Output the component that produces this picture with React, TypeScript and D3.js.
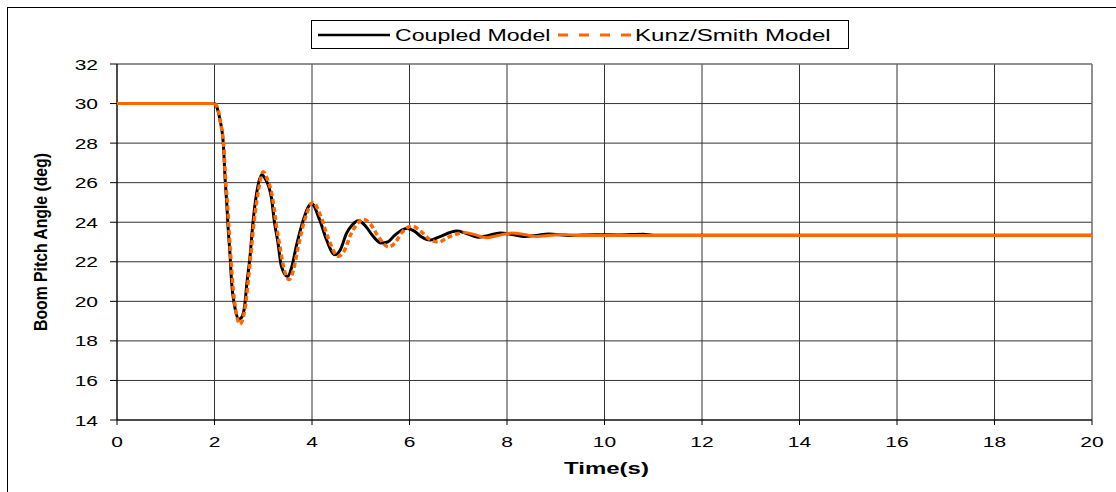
import React from "react";
import * as d3 from "d3";

// Coupled Model (black solid)
const coupledTime = [
  0, 2.0, 2.05, 2.11, 2.18, 2.22, 2.25, 2.28, 2.32, 2.35, 2.41, 2.5, 2.56, 2.62, 2.66, 2.73, 2.79, 2.86,
  2.97, 3.04, 3.17, 3.23, 3.3, 3.37, 3.5, 3.58, 3.68, 3.82, 3.99, 4.16, 4.3, 4.47, 4.58, 4.71, 4.82,
  4.95, 5.1, 5.25, 5.42, 5.55, 5.7, 5.94, 6.1, 6.25, 6.42, 6.6, 6.97, 7.15, 7.41, 7.6, 7.86, 8.1, 8.33,
  8.6, 8.85, 9.3, 9.8, 10.3, 10.8, 11.0, 20,
];
const coupledAngle = [
  30, 30, 29.8, 29.2, 28.0, 26.1, 25.0, 23.7, 22.3, 21.0, 19.8, 19.1, 19.2, 19.8, 20.8, 22.3, 24.0, 25.4,
  26.4, 26.2, 25.2, 24.0, 23.0, 21.8, 21.25, 21.7, 22.8, 24.1, 24.95, 24.1, 23.1, 22.35, 22.6, 23.45, 23.85,
  24.08, 23.8, 23.3, 22.95, 23.0, 23.35, 23.68, 23.55, 23.25, 23.1, 23.25, 23.56, 23.45, 23.24, 23.32, 23.45,
  23.38, 23.28, 23.33, 23.4, 23.33, 23.37, 23.36, 23.39, 23.34, 23.34,
];

// Kunz/Smith Model (orange dashed)
const kunzTime = [
  0, 2.0, 2.06, 2.12, 2.19, 2.23, 2.27, 2.3, 2.34, 2.38, 2.44, 2.52, 2.58, 2.64, 2.69, 2.75, 2.82, 2.9,
  3.0, 3.08, 3.2, 3.27, 3.34, 3.42, 3.53, 3.62, 3.72, 3.86, 4.02, 4.18, 4.33, 4.54, 4.65, 4.8, 4.92, 5.05,
  5.2, 5.38, 5.57, 5.7, 5.85, 6.05, 6.25, 6.4, 6.59, 6.8, 7.1, 7.3, 7.58, 7.8, 8.09, 8.35, 8.6, 8.9, 9.15,
  9.5, 20,
];
const kunzAngle = [
  30, 30, 29.8, 29.1, 27.8, 26.0, 24.8, 23.5, 22.0, 20.7, 19.5, 18.85, 19.1, 19.9, 21.0, 22.5, 24.2, 25.6,
  26.55, 26.2, 25.1, 23.8, 22.8, 21.7, 21.1, 21.6, 22.8, 24.2, 25.0, 24.3, 23.2, 22.28, 22.5, 23.4, 23.9,
  24.15, 23.9, 23.2, 22.75, 22.95, 23.5, 23.8, 23.5, 23.15, 23.0, 23.25, 23.5, 23.4, 23.22, 23.32, 23.45,
  23.38, 23.28, 23.34, 23.38, 23.33, 23.33,
];

const xTicks = [0, 2, 4, 6, 8, 10, 12, 14, 16, 18, 20];
const yTicks = [14, 16, 18, 20, 22, 24, 26, 28, 30, 32];

const W = 1116;
const H = 492;
const plot = { left: 117, right: 1092, top: 64, bottom: 420 };
const FONT = "'Liberation Sans', Arial, sans-serif";
const STRETCH = 1.4;

type Pt = { t: number; v: number };

export default function App() {
  const x = d3.scaleLinear().domain([0, 20]).range([plot.left, plot.right]);
  const y = d3.scaleLinear().domain([14, 32]).range([plot.bottom, plot.top]);

  const coupled: Pt[] = coupledTime.map((t, i) => ({ t, v: coupledAngle[i] }));
  const kunz: Pt[] = kunzTime.map((t, i) => ({ t, v: kunzAngle[i] }));

  const line = d3
    .line<Pt>()
    .x((d) => x(d.t))
    .y((d) => y(d.v))
    .curve(d3.curveMonotoneX);

  // orange dashes show only on the oscillating part, flat parts look solid
  const kunzPre = kunz.filter((d) => d.t <= 2.0);
  const kunzOsc = kunz.filter((d) => d.t >= 2.0 && d.t <= 7.1);
  const kunzPost = kunz.filter((d) => d.t >= 7.1);

  const orange = "#ff6600";

  return (
    <svg
      width={W}
      height={H}
      style={{ position: "absolute", left: 0, top: 0, display: "block", background: "#fff" }}
      fontFamily={FONT}
    >
      {/* outer chart border */}
      <rect x={7.5} y={7.5} width={W + 20} height={H + 20} fill="none" stroke="#000" strokeWidth={1} />

      {/* gridlines */}
      {yTicks.map((t) => (
        <line key={"gy" + t} x1={plot.left} x2={plot.right} y1={y(t)} y2={y(t)} stroke="#333" strokeWidth={1} />
      ))}
      {xTicks.map((t) => (
        <line key={"gx" + t} x1={x(t)} x2={x(t)} y1={plot.top} y2={plot.bottom} stroke="#333" strokeWidth={1} />
      ))}
      <line x1={plot.left} x2={plot.right} y1={plot.top} y2={plot.top} stroke="#888" />
      <line x1={plot.right} x2={plot.right} y1={plot.top} y2={plot.bottom} stroke="#888" />

      {/* axes */}
      <line x1={plot.left} x2={plot.left} y1={plot.top} y2={plot.bottom} stroke="#000" />
      <line x1={plot.left} x2={plot.right} y1={plot.bottom} y2={plot.bottom} stroke="#000" />
      {yTicks.map((t) => (
        <g key={"ty" + t}>
          <line x1={plot.left - 7} x2={plot.left} y1={y(t)} y2={y(t)} stroke="#000" />
          <text
            transform={`translate(98,${y(t) + 5.5}) scale(${STRETCH},1)`}
            textAnchor="end"
            fontSize={15}
          >
            {t}
          </text>
        </g>
      ))}
      {xTicks.map((t) => (
        <g key={"tx" + t}>
          <line x1={x(t)} x2={x(t)} y1={plot.bottom} y2={plot.bottom + 5} stroke="#000" />
          <text
            transform={`translate(${x(t)},${plot.bottom + 27}) scale(${STRETCH},1)`}
            textAnchor="middle"
            fontSize={15}
          >
            {t}
          </text>
        </g>
      ))}

      {/* axis titles */}
      <text
        transform={`translate(${(plot.left + plot.right) / 2 + 2},${plot.bottom + 54}) scale(1.5,1)`}
        textAnchor="middle"
        fontSize={16}
        fontWeight="bold"
      >
        Time(s)
      </text>
      <text
        transform={`translate(47,${(plot.top + plot.bottom) / 2}) scale(${STRETCH},1) rotate(-90)`}
        textAnchor="middle"
        fontSize={13}
        fontWeight="bold"
        textLength={178}
        lengthAdjust="spacingAndGlyphs"
      >
        Boom Pitch Angle (deg)
      </text>

      {/* series */}
      <path d={line(coupled) ?? ""} fill="none" stroke="#000" strokeWidth={3} strokeLinejoin="round" />
      <path d={line(kunzPre) ?? ""} fill="none" stroke={orange} strokeWidth={3} />
      <path d={line(kunzOsc) ?? ""} fill="none" stroke={orange} strokeWidth={3.5} strokeDasharray="5,3" />
      <path d={line(kunzPost) ?? ""} fill="none" stroke={orange} strokeWidth={3} />

      {/* legend */}
      <rect x={311.5} y={20.5} width={537} height={28} fill="#fff" stroke="#000" />
      <line x1={318} x2={390} y1={35} y2={35} stroke="#000" strokeWidth={2.5} />
      <text transform={`translate(395,41) scale(1.36,1)`} fontSize={17}>
        Coupled Model
      </text>
      <line x1={558} x2={632} y1={35} y2={35} stroke={orange} strokeWidth={3} strokeDasharray="10,11" />
      <text transform={`translate(635,41) scale(1.42,1)`} fontSize={17}>
        Kunz/Smith Model
      </text>
    </svg>
  );
}
